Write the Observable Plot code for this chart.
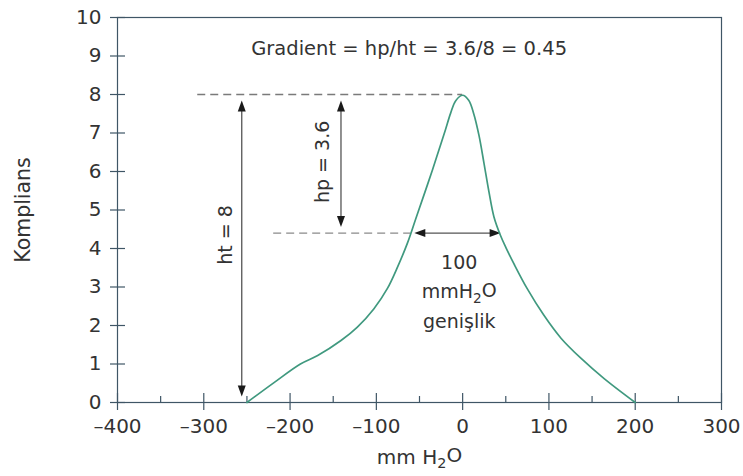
<!DOCTYPE html>
<html>
<head>
<meta charset="utf-8">
<script src="https://cdn.jsdelivr.net/npm/d3@7"></script>
<script src="https://cdn.jsdelivr.net/npm/@observablehq/plot@0.6"></script>
<style>
  body { margin: 0; background: #fff; }
  svg { display: block; }
</style>
</head>
<body>
<div id="chart"></div>
<script>
// Compliance curve: pressure (mm H2O) vs. compliance
const pressure   = [-250, -219, -188, -168, -141, -122, -103, -87, -76, -64, -54.5, -45, -35, -27.5, -20, -14, -8, 0, 7, 13, 19, 24.7, 30.5, 36.3, 44, 50, 59.5, 75, 94, 114, 137, 164, 200];
const compliance = [0, 0.51, 1.0, 1.22, 1.61, 1.96, 2.43, 2.97, 3.49, 4.14, 4.76, 5.38, 6.04, 6.56, 7.08, 7.51, 7.84, 7.98, 7.85, 7.49, 6.93, 6.22, 5.47, 4.82, 4.33, 4.03, 3.60, 2.95, 2.27, 1.67, 1.15, 0.62, 0];

// Axis ticks and labels
const xTicks = [-400, -300, -200, -100, 0, 100, 200, 300];
const xTickLabels = ["–400", "–300", "–200", "–100", "0", "100", "200", "300"];
const xMinorTicks = [-350, -250, -150, -50, 50, 150, 250];
const yTicks = [0, 1, 2, 3, 4, 5, 6, 7, 8, 9, 10];
const yTickLabels = ["0", "1", "2", "3", "4", "5", "6", "7", "8", "9", "10"];

// Gradient measurement values
const ht = [8];              // peak height
const hp = [3.6];            // drop from the peak
const widthEnds = [-56, 44]; // 100 mm H2O width at ht - hp
const gradient = hp[0] / ht[0];

const curve = pressure.map((p, i) => ({p, c: compliance[i]}));
const level = ht[0] - hp[0];

// Filled arrowhead, tip pointing up; `gap` keeps the tip off its anchor point
const head = (gap, len = 11, half = 4) => ({
  draw(ctx) {
    ctx.moveTo(0, gap);
    ctx.lineTo(-half, gap + len);
    ctx.lineTo(half, gap + len);
    ctx.closePath();
  }
});
const headV = head(6);
const headH = head(0);

const axisColor = "#3f5666";
const textColor = "#333";
const font = "'DejaVu Sans', sans-serif";

const chart = Plot.plot({
  width: 743,
  height: 476,
  marginLeft: 117,
  marginRight: 22,
  marginTop: 17,
  marginBottom: 74,
  style: {fontFamily: font, color: textColor, background: "#fff"},
  x: {domain: [-400, 300]},
  y: {domain: [0, 10]},
  marks: [
    Plot.frame({stroke: axisColor, strokeWidth: 1.2}),
    // y ticks crossing the axis
    Plot.axisY({ticks: yTicks, tickSize: 15, dx: 8, tickFormat: () => "", label: null, stroke: axisColor, strokeWidth: 1.2}),
    Plot.axisY({ticks: yTicks, tickSize: 0, tickPadding: 16, tickFormat: (d, i) => yTickLabels[i], label: null, fontSize: 20, fill: textColor}),
    // x ticks: major crossing the axis, minor above it
    Plot.axisX({ticks: xTicks, tickSize: 17, dy: -9, tickFormat: () => "", label: null, stroke: axisColor, strokeWidth: 1.2}),
    Plot.axisX({ticks: xMinorTicks, tickSize: 6, dy: -6, tickFormat: () => "", label: null, stroke: axisColor, strokeWidth: 1.2}),
    Plot.axisX({ticks: xTicks, tickSize: 0, tickPadding: 16, tickFormat: (d, i) => xTickLabels[i], label: null, fontSize: 20, fill: textColor}),

    // axis titles
    Plot.text(["Komplians"], {frameAnchor: "left", textAnchor: "middle", dx: -94, rotate: -90, fontSize: 20.5, fill: textColor}),
    Plot.text(["mm H₂O"], {frameAnchor: "bottom", dy: 55, lineAnchor: "middle", fontSize: 20, fill: textColor}),

    // dashed reference levels
    Plot.ruleY(ht, {y: d => d, x1: -307, x2: 0, stroke: "#7a7a7a", strokeWidth: 1.4, strokeDasharray: "8,5"}),
    Plot.ruleY([level], {y: d => d, x1: -219, x2: widthEnds[0] - 4, stroke: "#8a8a8a", strokeWidth: 1.4, strokeDasharray: "8,5"}),

    // ht arrow
    Plot.ruleX([-256], {x: d => d, y1: ht[0], y2: 0, insetTop: 15, insetBottom: 15, stroke: "#555", strokeWidth: 1.3}),
    Plot.dot([{x: -256, y: ht[0], r: 0}, {x: -256, y: 0, r: 180}], {x: "x", y: "y", rotate: "r", symbol: headV, r: 4, fill: "#1a1a1a", stroke: "none"}),
    Plot.text([`ht = ${ht[0]}`], {x: -274, y: 4.35, rotate: -90, fontSize: 19, fill: textColor}),

    // hp arrow
    Plot.ruleX([-141], {x: d => d, y1: ht[0], y2: level, insetTop: 15, insetBottom: 15, stroke: "#555", strokeWidth: 1.3}),
    Plot.dot([{x: -141, y: ht[0], r: 0}, {x: -141, y: level, r: 180}], {x: "x", y: "y", rotate: "r", symbol: headV, r: 4, fill: "#1a1a1a", stroke: "none"}),
    Plot.text([`hp = ${hp[0]}`], {x: -162, y: 6.25, rotate: -90, fontSize: 19, fill: textColor}),

    // width arrow
    Plot.ruleY([level], {y: d => d, x1: widthEnds[0], x2: widthEnds[1], insetLeft: 9, insetRight: 9, stroke: "#555", strokeWidth: 1.3}),
    Plot.dot([{x: widthEnds[0], y: level, r: -90}, {x: widthEnds[1], y: level, r: 90}], {x: "x", y: "y", rotate: "r", symbol: headH, r: 4, fill: "#1a1a1a", stroke: "none"}),
    Plot.text(["100", "mmH₂O", "genişlik"], {x: -4, y: (d, i) => 3.62 - i * 0.76, fontSize: 19, fill: textColor}),

    // gradient formula
    Plot.text([`Gradient = hp/ht = ${hp[0]}/${ht[0]} = ${gradient.toFixed(2)}`], {x: -62, y: 9.2, fontSize: 19.5, fill: textColor}),

    // compliance curve
    Plot.line(curve, {x: "p", y: "c", curve: "catmull-rom", stroke: "#40997f", strokeWidth: 1.7})
  ]
});

// Render the "2" in H₂O as a real subscript
d3.select(chart).selectAll("text, tspan").each(function () {
  if (this.childElementCount) return;
  const s = this.textContent;
  const k = s.indexOf("₂");
  if (k < 0) return;
  const el = d3.select(this);
  el.text(null);
  el.append("tspan").text(s.slice(0, k));
  el.append("tspan").attr("dy", "0.3em").attr("font-size", "0.72em").text("2");
  el.append("tspan").attr("dy", "-0.3em").text(s.slice(k + 1));
});

document.getElementById("chart").append(chart);
</script>
</body>
</html>
